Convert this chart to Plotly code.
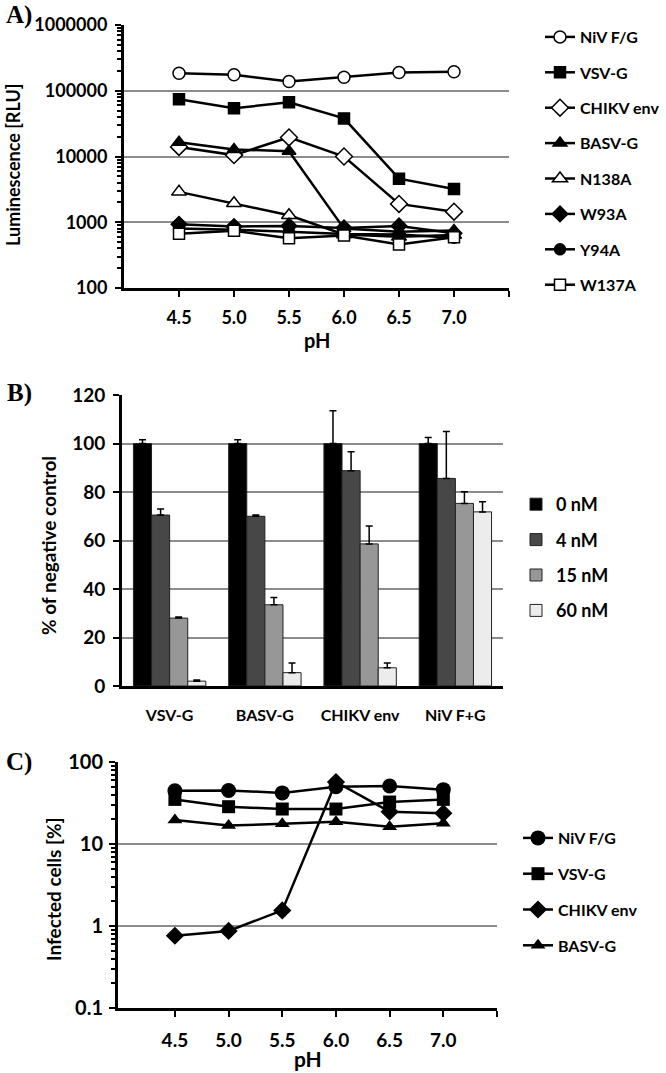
import plotly.graph_objects as go

W, H = 666, 1073
def fx(p): return p / W
def fy(p): return 1 - p / H

# ---------------- data ----------------
ph = [4.5, 5.0, 5.5, 6.0, 6.5, 7.0]
ph_labels = ["4.5", "5.0", "5.5", "6.0", "6.5", "7.0"]

# Panel A: luminescence [RLU]
a_names = ["NiV F/G", "VSV-G", "CHIKV env", "BASV-G", "N138A", "W93A", "Y94A", "W137A"]
a_niv = [185000, 175000, 138000, 160000, 190000, 195000]
a_vsv = [74000, 54000, 67000, 38000, 4600, 3200]
a_chikv = [14000, 10500, 19500, 10000, 1900, 1450]
a_basv = [16500, 12800, 12000, 800, 720, 750]
a_n138a = [2900, 1950, 1280, 650, 600, 640]
a_w93a = [930, 860, 880, 820, 880, 680]
a_y94a = [800, 770, 720, 660, 650, 580]
a_w137a = [670, 740, 570, 630, 460, 590]

# Panel B: % of negative control
b_groups = ["VSV-G", "BASV-G", "CHIKV env", "NiV F+G"]
b_conc = ["0 nM", "4 nM", "15 nM", "60 nM"]
b_0 = [100, 100, 100, 100]
b_0_err = [1.5, 1.5, 13.5, 2.5]
b_4 = [70.5, 70, 88.8, 85.6]
b_4_err = [2.5, 0.5, 7.8, 19.4]
b_15 = [28, 33.5, 58.6, 75.3]
b_15_err = [0.5, 3, 7.4, 4.8]
b_60 = [2, 5.5, 7.5, 71.8]
b_60_err = [0.5, 4, 2, 4.2]

# Panel C: infected cells [%]
c_names = ["NiV F/G", "VSV-G", "CHIKV env", "BASV-G"]
c_niv = [44.5, 45, 42, 50, 51, 46]
c_vsv = [35, 28.5, 26.7, 26.7, 32.5, 35]
c_chikv = [0.76, 0.87, 1.55, 57, 24.8, 23.7]
c_basv = [19.6, 16.8, 17.6, 18.7, 16.2, 17.9]

FONT = "Lato"
fig = go.Figure()

# ---------------- Panel A ----------------
a_series = [a_niv, a_vsv, a_chikv, a_basv, a_n138a, a_w93a, a_y94a, a_w137a]
a_sym = ["circle", "square", "diamond", "triangle-up", "triangle-up", "diamond", "circle", "square"]
a_fill = ["white", "black", "white", "black", "white", "black", "black", "white"]
a_size = [12, 11, 13, 12, 13, 12, 11, 11]
for i, (nm, ys) in enumerate(zip(a_names, a_series)):
    fig.add_trace(go.Scatter(
        x=ph, y=ys, name=nm, mode="lines+markers",
        line=dict(color="black", width=2.5),
        marker=dict(symbol=a_sym[i], size=a_size[i], color=a_fill[i],
                    line=dict(color="black", width=1.5)),
        xaxis="x", yaxis="y", legend="legend", legendgroup="a%d" % i))

# ---------------- Panel B ----------------
b_vals = [b_0, b_4, b_15, b_60]
b_errs = [b_0_err, b_4_err, b_15_err, b_60_err]
b_cols = ["#000000", "#474747", "#979797", "#ececec"]
for i in range(4):
    fig.add_trace(go.Bar(
        x=b_groups, y=b_vals[i], name=b_conc[i],
        marker=dict(color=b_cols[i], line=dict(color="#222222", width=1)),
        error_y=dict(type="data", array=b_errs[i], arrayminus=[0] * 4, symmetric=False,
                     color="black", thickness=1.5, width=3.5),
        xaxis="x2", yaxis="y2", legend="legend2", legendgroup="b%d" % i))

# ---------------- Panel C ----------------
c_series = [c_niv, c_vsv, c_chikv, c_basv]
c_sym = ["circle", "square", "diamond", "triangle-up"]
c_size = [15, 13, 14, 13]
for i, (nm, ys) in enumerate(zip(c_names, c_series)):
    fig.add_trace(go.Scatter(
        x=ph, y=ys, name=nm, mode="lines+markers",
        line=dict(color="black", width=2.5),
        marker=dict(symbol=c_sym[i], size=c_size[i], color="black"),
        xaxis="x3", yaxis="y3", legend="legend3", legendgroup="c%d" % i))

tickfont = lambda s: dict(family=FONT, size=s, color="black", weight=700)
grid = "#8c8c8c"

def log_minor(lo, hi):
    return [m * 10.0 ** d for d in range(lo, hi) for m in range(2, 10)]

xa_common = dict(showline=True, linecolor="black", linewidth=3, ticks="outside",
                 ticklen=6, tickwidth=2, tickcolor="black", showgrid=False, zeroline=False,
                 tickvals=ph + [7.5], ticktext=ph_labels + [""], automargin=False)

fig.update_layout(
    width=W, height=H, margin=dict(l=0, r=0, t=0, b=0, autoexpand=False),
    paper_bgcolor="white", plot_bgcolor="white", showlegend=True,
    barmode="group", bargap=0.24, bargroupgap=0,
    xaxis=dict(domain=[fx(124), fx(509)], range=[4.0, 7.5], anchor="y",
               tickfont=tickfont(18), ticklabelstandoff=5, **xa_common),
    yaxis=dict(domain=[fy(288), fy(25)], type="log", range=[2, 6], anchor="x",
               showline=True, linecolor="black", linewidth=3, ticks="outside", ticklen=6,
               tickwidth=2, tickcolor="black", showgrid=True, gridcolor=grid, gridwidth=1.5,
               tickvals=[100, 1000, 10000, 100000, 1000000],
               ticktext=["100", "1000", "10000", "100000", "1000000"],
               minor=dict(tickmode="array", tickvals=log_minor(2, 6), ticks="outside",
                          ticklen=4, tickwidth=1.5, tickcolor="black", showgrid=False),
               tickfont=tickfont(18), zeroline=False, ticklabelstandoff=4, automargin=False),
    xaxis2=dict(domain=[fx(122), fx(503)], anchor="y2", showline=True, linecolor="black",
                linewidth=3, ticks="", tickfont=tickfont(16), ticklabelstandoff=13,
                automargin=False),
    yaxis2=dict(domain=[fy(686), fy(395)], range=[0, 120], anchor="x2", dtick=20,
                showline=True, linecolor="black", linewidth=3, ticks="outside", ticklen=6,
                tickwidth=2, tickcolor="black", showgrid=True, gridcolor=grid, gridwidth=1.5,
                zeroline=False, tickfont=tickfont(19), ticklabelstandoff=4, automargin=False),
    xaxis3=dict(domain=[fx(118), fx(497)], range=[3.97, 7.5], anchor="y3",
                tickfont=tickfont(19), ticklabelstandoff=7, **xa_common),
    yaxis3=dict(domain=[fy(1008), fy(762)], type="log", range=[-1, 2], anchor="x3",
                showline=True, linecolor="black", linewidth=3, ticks="outside", ticklen=6,
                tickwidth=2, tickcolor="black", showgrid=True, gridcolor=grid, gridwidth=1.5,
                tickvals=[0.1, 1, 10, 100], ticktext=["0.1", "1", "10", "100"],
                minor=dict(tickmode="array", tickvals=log_minor(-1, 2), ticks="outside",
                           ticklen=4, tickwidth=1.5, tickcolor="black", showgrid=False),
                tickfont=tickfont(20), zeroline=False, ticklabelstandoff=2, automargin=False),
    legend=dict(x=fx(540), y=fy(20), xanchor="left", yanchor="top", font=tickfont(16),
                tracegroupgap=11.6, bgcolor="rgba(0,0,0,0)"),
    legend2=dict(x=fx(516), y=fy(486), xanchor="left", yanchor="top", font=tickfont(18),
                 tracegroupgap=9, bgcolor="rgba(0,0,0,0)"),
    legend3=dict(x=fx(518), y=fy(821), xanchor="left", yanchor="top", font=tickfont(16),
                 tracegroupgap=12, bgcolor="rgba(0,0,0,0)"),
)

ann = []
def text(x, y, s, size, angle=0, family=FONT):
    ann.append(dict(x=fx(x), y=fy(y), xref="paper", yref="paper", text=s, showarrow=False,
                    textangle=angle, xanchor="center", yanchor="middle",
                    font=dict(family=family, size=size, color="black", weight=700)))

text(19, 15, "A)", 25, family="Liberation Serif")
text(19, 393, "B)", 25, family="Liberation Serif")
text(19, 762, "C)", 25, family="Liberation Serif")
text(13, 165, "Luminescence [RLU]", 18, -90)
text(317, 340, "pH", 20)
text(48, 546, "% of negative control", 19, -90)
text(53, 890, "Infected cells [%]", 19, -90)
text(308, 1058, "pH", 21)
fig.update_layout(annotations=ann)

fig.write_html("out.html", config={"displayModeBar": False},
               post_script="document.body.style.margin='0px';document.body.style.overflow='hidden';")
